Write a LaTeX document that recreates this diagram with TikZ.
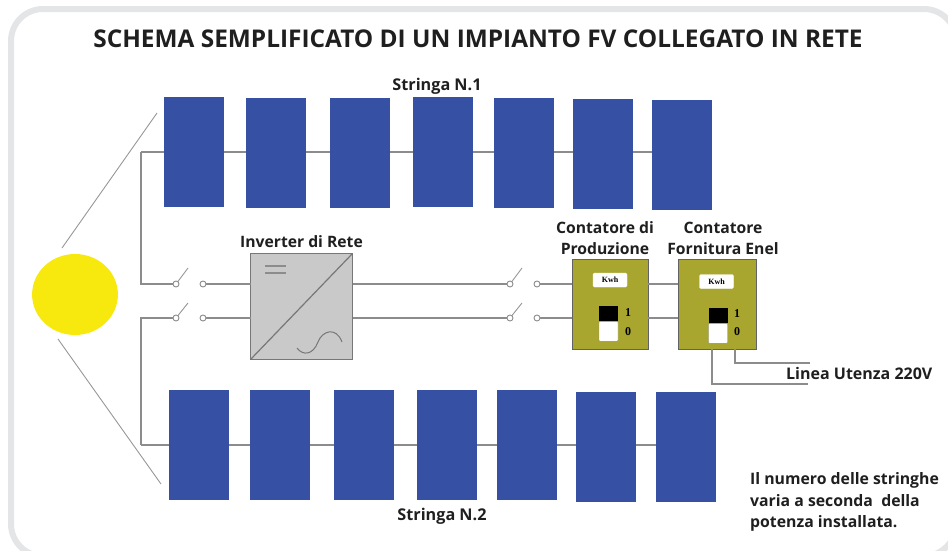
\documentclass[tikz,border=0pt]{standalone}
\usepackage{fontspec}
\setmainfont{Open Sans}
\newfontfamily\meterfont{Liberation Serif}
\usetikzlibrary{positioning,backgrounds}
\definecolor{panelblue}{HTML}{3651A3}
\definecolor{meterolive}{HTML}{A9A62F}
\definecolor{sunyellow}{HTML}{F7E80D}
\definecolor{invgray}{HTML}{C9C9C9}
\definecolor{wiregray}{HTML}{8C8C8C}
\definecolor{framegray}{HTML}{E3E5E7}
\definecolor{inktext}{HTML}{1F1F1F}

\begin{document}
\begin{tikzpicture}[
    x=1pt, y=-1pt,
    panel/.style={rectangle, fill=panelblue, minimum width=60pt, minimum height=110pt, inner sep=0pt, outer sep=0pt},
    meter/.style={rectangle, draw=wiregray!70!black, fill=meterolive, minimum width=76pt, minimum height=90pt, inner sep=0pt, outer sep=0pt},
    display/.style={rectangle, draw=white, fill=white, rounded corners=1.5pt, minimum width=34pt, minimum height=14pt, inner sep=0pt, font=\meterfont\bfseries\fontsize{8}{9}\selectfont},
    sliderhi/.style={rectangle, fill=black, minimum width=19pt, minimum height=15pt, inner sep=0pt},
    sliderlo/.style={rectangle, fill=white, draw=wiregray, rounded corners=1pt, minimum width=19pt, minimum height=20pt, inner sep=0pt},
    digit/.style={inner sep=0pt, text=black, font=\meterfont\bfseries\fontsize{12}{13}\selectfont},
    contact/.style={circle, draw=wiregray, fill=white, line width=0.9pt, minimum size=6pt, inner sep=0pt, outer sep=0pt},
    wire/.style={draw=wiregray, line width=1.2pt},
    ray/.style={draw=wiregray!90, line width=0.9pt},
    label/.style={text=inktext, inner sep=0pt, align=center, font=\bfseries\fontsize{15.7}{21}\selectfont}
]
    \useasboundingbox (0,0) rectangle (948,550);
    \clip (0,0) rectangle (948,550);
    \draw[framegray, line width=6pt, rounded corners=32pt] (11,9) rectangle (956,556);

    \node[label, font=\bfseries\fontsize{24.4}{28}\selectfont] (title) at (478,39) {SCHEMA SEMPLIFICATO DI UN IMPIANTO FV COLLEGATO IN RETE};

    % string 1
    \node[panel] (p11) at (194,152) {};
    \node[panel, right=22pt of p11, yshift=-1pt] (p12) {};
    \node[panel, right=24pt of p12] (p13) {};
    \node[panel, right=23pt of p13, yshift=1pt] (p14) {};
    \node[panel, right=21pt of p14, yshift=-1pt] (p15) {};
    \node[panel, right=19pt of p15, yshift=-1pt] (p16) {};
    \node[panel, right=19pt of p16, yshift=-1pt] (p17) {};
    \node[label, font=\bfseries\fontsize{16.2}{21}\selectfont] (s1) at (437,86) {Stringa N.1};

    % string 2
    \node[panel] (p21) at (199,445) {};
    \node[panel, right=21pt of p21] (p22) {};
    \node[panel, right=24pt of p22] (p23) {};
    \node[panel, right=23pt of p23] (p24) {};
    \node[panel, right=20pt of p24] (p25) {};
    \node[panel, right=19pt of p25, yshift=-2pt] (p26) {};
    \node[panel, right=20pt of p26] (p27) {};
    \node[label, font=\bfseries\fontsize{16.2}{21}\selectfont] (s2) at (442,516) {Stringa N.2};

    % sun
    \node[circle, fill=sunyellow, minimum size=1pt, inner sep=0pt, xscale=1.06, minimum height=81pt, minimum width=81pt] (sun) at (75,294.5) {};
    \coordinate (r1a) at (62,248);
    \coordinate (r1b) at (157,113);
    \coordinate (r2a) at (58,339);
    \coordinate (r2b) at (161,484);
    \draw[ray] (r1a) -- (r1b);
    \draw[ray] (r2a) -- (r2b);

    % inverter
    \node[rectangle, draw=wiregray!85!black, fill=invgray, line width=1.2pt, minimum width=102pt, minimum height=106pt, inner sep=0pt, outer sep=0pt] (inv) at (301.5,306.5) {};
    \draw[wiregray!85!black, line width=1.2pt] (inv.south west) -- (inv.north east);
    \draw[wiregray, line width=1.2pt] (265,266) -- (286,266);
    \draw[wiregray, line width=1.2pt] (265,273) -- (286,273);
    \draw[wiregray!85!black, line width=1pt] (297,348) .. controls (303,356) and (313,355) .. (318,342) .. controls (322,331) and (336,326) .. (342,342);
    \node[label, above=6pt of inv] (invlab) {Inverter di Rete};

    % switches
    \node[contact] (a1) at (176,284) {};
    \node[contact] (a2) at (203,284) {};
    \node[contact] (b1) at (176,318) {};
    \node[contact] (b2) at (203,318) {};
    \node[contact] (c1) at (510,284) {};
    \node[contact] (c2) at (537,284) {};
    \node[contact] (d1) at (510,318) {};
    \node[contact] (d2) at (537,318) {};
    \coordinate (la) at (188,268);
    \coordinate (lb) at (188,303);
    \coordinate (lc) at (522,268);
    \coordinate (ld) at (522,303);
    \draw[ray] (a1) -- (la);
    \draw[ray] (b1) -- (lb);
    \draw[ray] (c1) -- (lc);
    \draw[ray] (d1) -- (ld);

    % meters
    \node[meter] (m1) at (610,304) {};
    \node[meter, right=30pt of m1, minimum width=78pt] (m2) {};
    \node[display] (k1) at (610,280) {Kwh};
    \node[display] (k2) at (716.5,281.5) {Kwh};
    \node[sliderhi] (h1) at (608.5,313.5) {};
    \node[sliderlo, below=0pt of h1] (l1) {};
    \node[sliderhi] (h2) at (718,315.5) {};
    \node[sliderlo, below=0pt of h2] (l2) {};
    \node[digit] (on1) at (628,313) {1};
    \node[digit] (off1) at (628,332) {0};
    \node[digit] (on2) at (737,314) {1};
    \node[digit] (off2) at (737,332) {0};
    \node[label, above=4pt of m1, xshift=-5pt] (m1lab) {Contatore di\\Produzione};
    \node[label, above=4pt of m2, xshift=6pt] (m2lab) {Contatore\\Fornitura Enel};

    % wiring
    \coordinate (j1) at (141,152);
    \coordinate (j2) at (141,445);
    \coordinate (u1) at (810,363);
    \coordinate (u2) at (808,384);
    \begin{scope}[on background layer]
        \draw[wire] (j1) -- (p17.west |- j1);
        \draw[wire] (j2) -- (p27.west |- j2);
    \end{scope}
    \draw[wire] (j1) -- (j1 |- a1) -- (a1);
    \draw[wire] (j2) -- (j2 |- b1) -- (b1);
    \draw[wire] (a2) -- (inv.west |- a2);
    \draw[wire] (b2) -- (inv.west |- b2);
    \draw[wire] (inv.east |- c1) -- (c1);
    \draw[wire] (inv.east |- d1) -- (d1);
    \draw[wire] (c2) -- (m1.west |- c2);
    \draw[wire] (d2) -- (m1.west |- d2);
    \draw[wire] (m1.east |- c2) -- (m2.west |- c2);
    \draw[wire] (m1.east |- d2) -- (m2.west |- d2);
    \draw[wire] (m2.south -| 735,0) -- (735,0 |- u1) -- (u1);
    \draw[wire] (m2.south -| 712,0) -- (712,0 |- u2) -- (u2);

    \node[label, anchor=west, font=\bfseries\fontsize{16}{21}\selectfont] (linea) at (786,373) {Linea Utenza 220V};
    \node[label, anchor=west, align=left, font=\bfseries\fontsize{15.8}{21.5}\selectfont] (note) at (750,502) {Il numero delle stringhe\\varia a seconda\ \ della\\potenza installata.};
\end{tikzpicture}
\end{document}
